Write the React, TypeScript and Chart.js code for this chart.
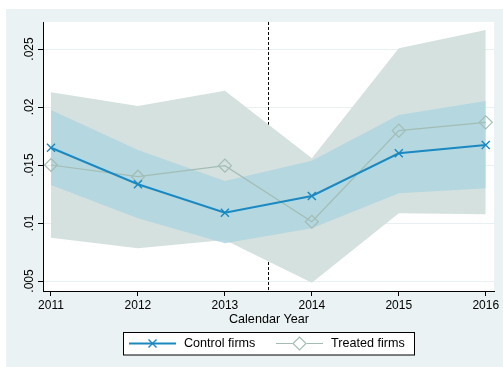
import React, { useEffect, useRef } from "react";
import { Chart, registerables } from "chart.js";

Chart.register(...registerables);

// Calendar years on the x axis
const years = [2011, 2012, 2013, 2014, 2015, 2016];

// Point estimates
const controlFirms = [0.01649, 0.01334, 0.01089, 0.01233, 0.01601, 0.01672];
const treatedFirms = [0.015, 0.01399, 0.01494, 0.01011, 0.01796, 0.01868];

// Confidence bands
const controlUpper = [0.01974, 0.01629, 0.01362, 0.01537, 0.01931, 0.02052];
const controlLower = [0.01328, 0.01041, 0.00825, 0.00954, 0.01256, 0.01299];
const treatedUpper = [0.02127, 0.02009, 0.02141, 0.01558, 0.02506, 0.02664];
const treatedLower = [0.00873, 0.00782, 0.00853, 0.00485, 0.01084, 0.01075];

// Axis ticks and labels
const yTicks = [0.005, 0.01, 0.015, 0.02, 0.025];
const yTickLabels = [".005", ".01", ".015", ".02", ".025"];
const xTicks = years;
const treatmentYear = 2013.5;

const xTitle = "Calendar Year";
const legendLabels = ["Control firms", "Treated firms"];

const W = 503;
const H = 367;

const OUTER_BG = "rgb(234,242,243)";
const GRID = "rgb(232,240,241)";
const CONTROL = "rgb(26,137,193)";
const TREATED = "rgb(163,189,181)";
const BAND_TREATED = "rgb(213,225,223)";
const BAND_CONTROL = "rgba(172,212,224,0.82)";
const FONT = "Liberation Sans, Arial, sans-serif";

const pts = (vals: number[]) => years.map((x, i) => ({ x, y: vals[i] }));

function drawCross(ctx: CanvasRenderingContext2D, x: number, y: number, h: number) {
  ctx.beginPath();
  ctx.moveTo(x - h, y - h);
  ctx.lineTo(x + h, y + h);
  ctx.moveTo(x - h, y + h);
  ctx.lineTo(x + h, y - h);
  ctx.stroke();
}

function drawDiamond(ctx: CanvasRenderingContext2D, x: number, y: number, r: number) {
  ctx.beginPath();
  ctx.moveTo(x - r, y);
  ctx.lineTo(x, y - r);
  ctx.lineTo(x + r, y);
  ctx.lineTo(x, y + r);
  ctx.closePath();
  ctx.stroke();
}

const decorPlugin = {
  id: "decor",
  beforeDraw(chart: any) {
    const { ctx, chartArea } = chart;
    ctx.save();
    ctx.fillStyle = "#ffffff";
    ctx.fillRect(0, 0, W, H);
    ctx.fillStyle = OUTER_BG;
    ctx.fillRect(6, 9, W - 6, H - 9);
    ctx.fillStyle = "#ffffff";
    ctx.fillRect(chartArea.left, chartArea.top, chartArea.right - chartArea.left, chartArea.bottom - chartArea.top);
    ctx.restore();
  },
  beforeDatasetsDraw(chart: any) {
    const { ctx, chartArea, scales } = chart;
    const x = Math.round(scales.x.getPixelForValue(treatmentYear)) + 0.5;
    ctx.save();
    ctx.strokeStyle = "#000000";
    ctx.lineWidth = 1;
    ctx.setLineDash([3, 2]);
    ctx.beginPath();
    ctx.moveTo(x, chartArea.top);
    ctx.lineTo(x, chartArea.bottom);
    ctx.stroke();
    ctx.restore();
  },
  afterDraw(chart: any) {
    const { ctx, chartArea, scales } = chart;
    ctx.save();
    ctx.fillStyle = "#000000";

    // y tick labels, rotated
    ctx.font = `12px ${FONT}`;
    ctx.textAlign = "center";
    ctx.textBaseline = "middle";
    yTicks.forEach((v, i) => {
      const y = scales.y.getPixelForValue(v);
      ctx.save();
      ctx.translate(30, y);
      ctx.rotate(-Math.PI / 2);
      ctx.fillText(yTickLabels[i], 0, 0);
      ctx.restore();
    });

    // x tick labels
    ctx.textBaseline = "alphabetic";
    xTicks.forEach((v) => {
      const x = scales.x.getPixelForValue(v);
      ctx.fillText(String(v), x, 308.5);
    });

    // x axis title
    ctx.font = `12.6px ${FONT}`;
    ctx.fillText(xTitle, (chartArea.left + chartArea.right) / 2 + 0.5, 322.5);

    // legend
    const bx = 123.5, by = 332.5, bw = 291, bh = 22.5;
    ctx.fillStyle = "#ffffff";
    ctx.fillRect(bx, by, bw, bh);
    ctx.strokeStyle = "#000000";
    ctx.lineWidth = 1;
    ctx.strokeRect(bx, by, bw, bh);
    const ly = 343.5;

    ctx.strokeStyle = CONTROL;
    ctx.lineWidth = 2;
    ctx.beginPath();
    ctx.moveTo(129, ly);
    ctx.lineTo(176, ly);
    ctx.stroke();
    ctx.lineWidth = 1.4;
    drawCross(ctx, 152.5, ly, 4);

    ctx.strokeStyle = TREATED;
    ctx.lineWidth = 1.2;
    ctx.beginPath();
    ctx.moveTo(276, ly);
    ctx.lineTo(292.5, ly);
    ctx.moveTo(306.5, ly);
    ctx.lineTo(323, ly);
    ctx.stroke();
    drawDiamond(ctx, 299.5, ly, 6.5);

    ctx.fillStyle = "#000000";
    ctx.font = `12.6px ${FONT}`;
    ctx.textAlign = "left";
    ctx.textBaseline = "middle";
    ctx.fillText(legendLabels[0], 184, ly + 0.5);
    ctx.fillText(legendLabels[1], 331, ly + 0.5);
    ctx.restore();
  },
};

export default function App() {
  const ref = useRef<HTMLCanvasElement | null>(null);

  useEffect(() => {
    if (!ref.current) return;
    const chart = new Chart(ref.current, {
      type: "line",
      data: {
        datasets: [
          {
            label: "treated lower",
            data: pts(treatedLower),
            borderWidth: 0,
            pointRadius: 0,
            fill: false,
            order: 10,
          },
          {
            label: "treated upper",
            data: pts(treatedUpper),
            borderWidth: 0,
            pointRadius: 0,
            backgroundColor: BAND_TREATED,
            fill: "-1",
            order: 10,
          },
          {
            label: "control lower",
            data: pts(controlLower),
            borderWidth: 0,
            pointRadius: 0,
            fill: false,
            order: 9,
          },
          {
            label: "control upper",
            data: pts(controlUpper),
            borderWidth: 0,
            pointRadius: 0,
            backgroundColor: BAND_CONTROL,
            fill: "-1",
            order: 9,
          },
          {
            label: legendLabels[1],
            data: pts(treatedFirms),
            borderColor: TREATED,
            borderWidth: 1.2,
            pointStyle: "rectRot",
            pointRadius: 6.5,
            pointBorderColor: TREATED,
            pointBackgroundColor: "rgba(0,0,0,0)",
            pointBorderWidth: 1.2,
            fill: false,
            order: 2,
          },
          {
            label: legendLabels[0],
            data: pts(controlFirms),
            borderColor: CONTROL,
            borderWidth: 2,
            pointStyle: "crossRot",
            pointRadius: 5.7,
            pointBorderColor: CONTROL,
            pointBorderWidth: 1.4,
            fill: false,
            order: 1,
          },
        ],
      },
      options: {
        animation: false,
        responsive: false,
        events: [],
        layout: { padding: { left: 0, right: 9, top: 22, bottom: 0 } },
        plugins: {
          legend: { display: false },
          tooltip: { enabled: false },
          title: { display: false },
        },
        scales: {
          x: {
            type: "linear",
            min: 2010.908,
            max: 2016.095,
            afterBuildTicks: (s: any) => {
              s.ticks = xTicks.map((v) => ({ value: v }));
            },
            afterFit: (s: any) => {
              s.height = 76;
            },
            ticks: { display: false },
            grid: {
              drawOnChartArea: false,
              drawTicks: true,
              tickLength: 5,
              tickColor: "#000000",
              color: "#000000",
            },
            border: { display: true, color: "#000000", width: 1 },
          },
          y: {
            type: "linear",
            min: 0.004138,
            max: 0.027328,
            afterBuildTicks: (s: any) => {
              s.ticks = yTicks.map((v) => ({ value: v }));
            },
            afterFit: (s: any) => {
              s.width = 43;
            },
            ticks: { display: false },
            grid: {
              drawOnChartArea: true,
              drawTicks: true,
              tickLength: 5,
              color: GRID,
              tickColor: "#000000",
              lineWidth: 1,
            },
            border: { display: true, color: "#000000", width: 1 },
          },
        },
      },
      plugins: [decorPlugin],
    });
    return () => chart.destroy();
  }, []);

  return (
    <div style={{ position: "absolute", left: 0, top: 0, width: W, height: H }}>
      <canvas ref={ref} width={W} height={H} style={{ display: "block", width: W, height: H }} />
    </div>
  );
}
